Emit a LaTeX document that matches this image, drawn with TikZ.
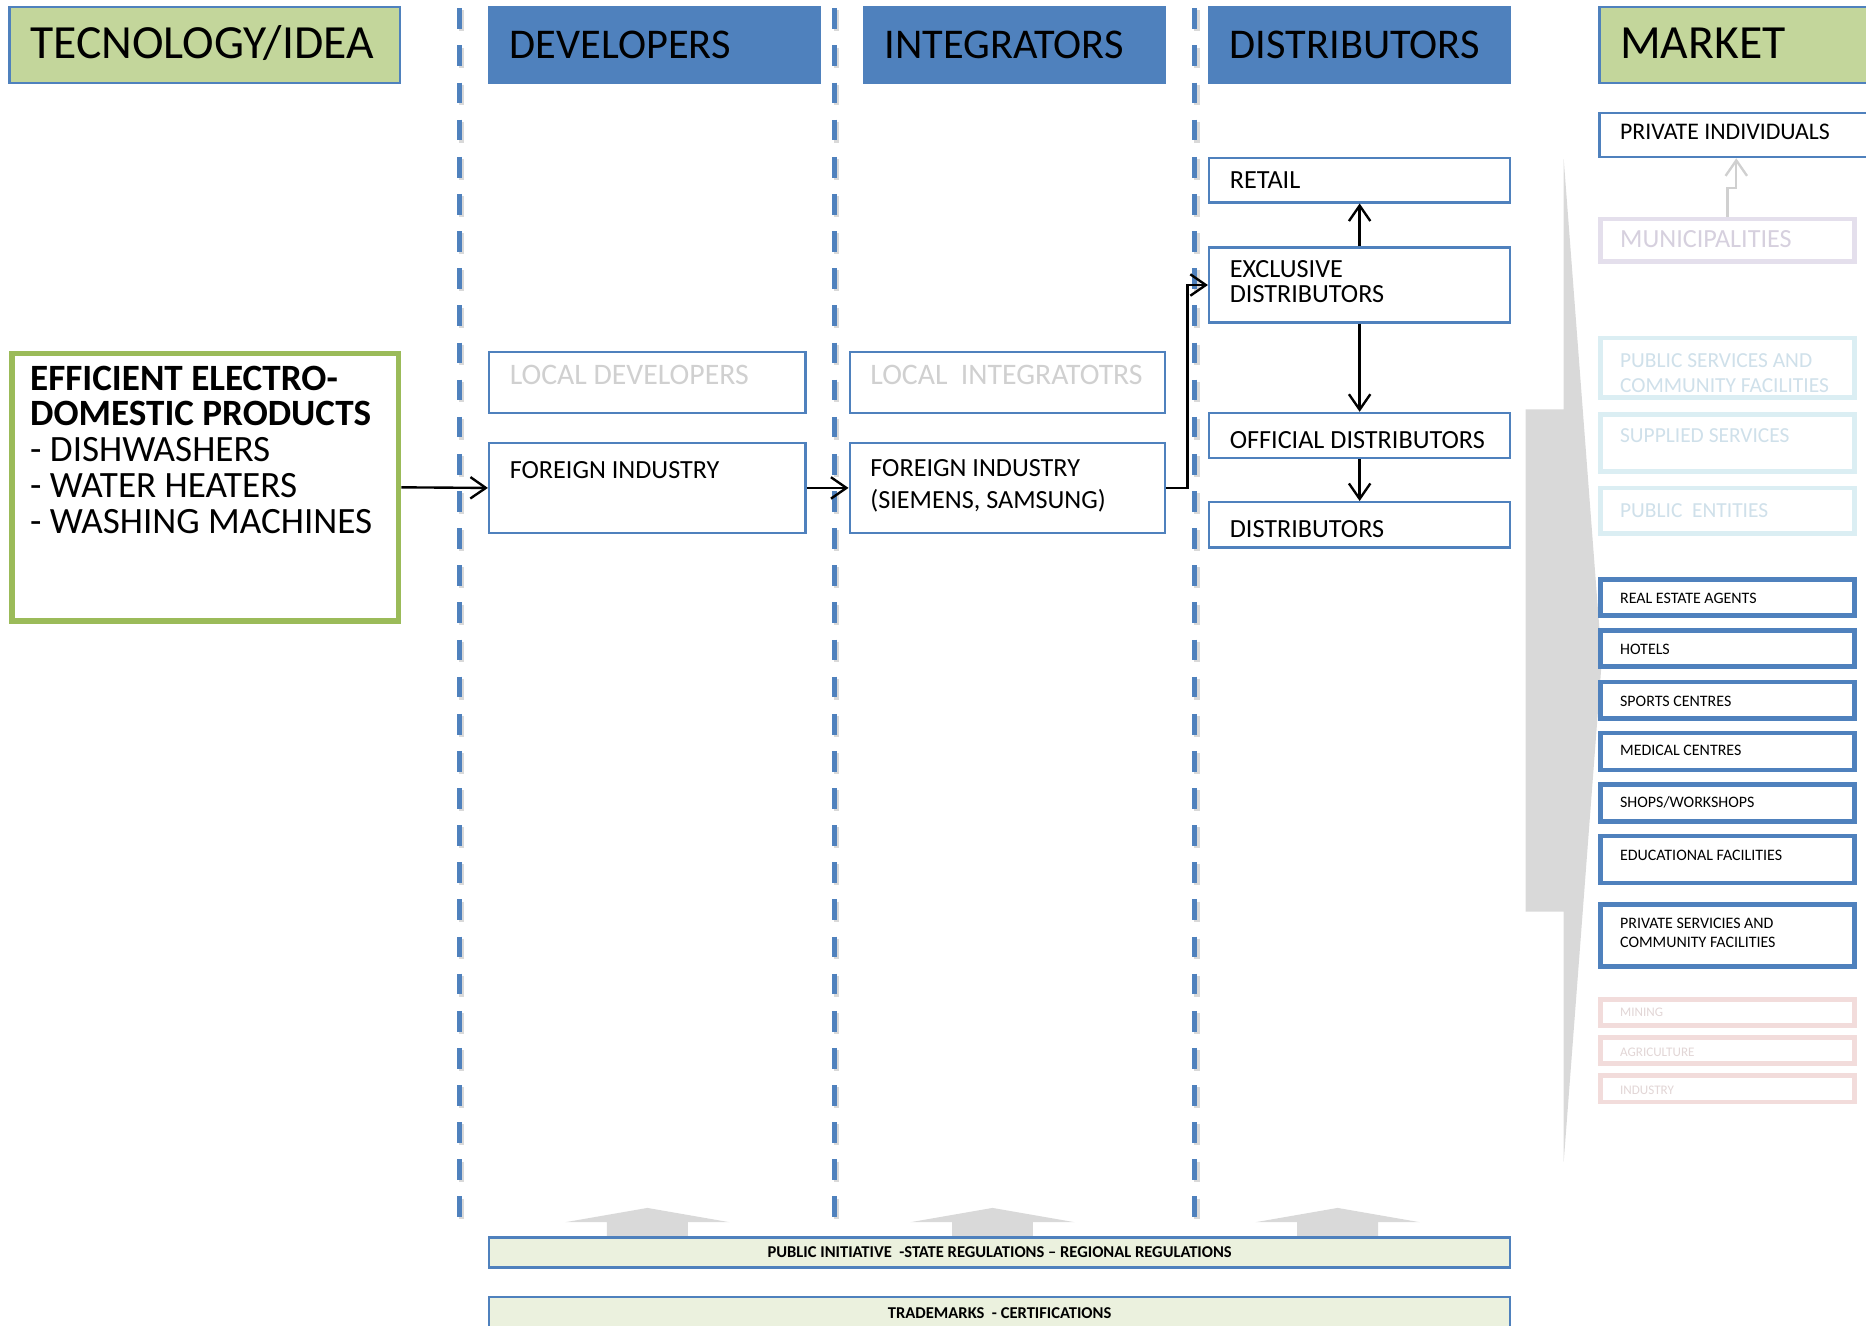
\documentclass[tikz,border=0pt]{standalone}
\usepackage{fontspec}
\setmainfont{Carlito}
\usetikzlibrary{arrows.meta,fit,calc}
\definecolor{hblue}{HTML}{4F81BD}
\definecolor{hgreen}{HTML}{C3D69B}
\definecolor{ggreen}{HTML}{9BBB59}
\definecolor{barfill}{HTML}{EBF1DE}
\definecolor{arrowgray}{HTML}{D9D9D9}
\definecolor{fainttext}{HTML}{D0D0D0}
\definecolor{muniborder}{HTML}{E4DFEC}
\definecolor{munitext}{HTML}{D6D0DE}
\definecolor{psborder}{HTML}{DBEEF3}
\definecolor{pstext}{HTML}{CFE0EA}
\definecolor{minborder}{HTML}{F2DCDB}
\definecolor{mintext}{HTML}{E2D6D6}
\definecolor{fadearrow}{HTML}{D0D0D0}
\begin{document}
\begin{tikzpicture}[x=0.5pt,y=-0.5pt,
  every node/.style={inner sep=0pt},
  thinbox/.style={draw=hblue, line width=1pt, fill=white},
  hdrb/.style={fill=hblue, draw=hblue, line width=0.8pt},
  hdrg/.style={fill=hgreen, draw=hblue, line width=1pt},
  effbox/.style={draw=ggreen, line width=2.3pt, fill=white},
  mktbox/.style={draw=hblue, line width=2pt, fill=white},
  palebox/.style={line width=2pt, fill=white},
  barbox/.style={draw=hblue, line width=1pt, fill=barfill},
  txt/.style={anchor=west, align=left},
  htxt/.style={txt, font=\fontsize{17.8}{20}\selectfont},
  midtxt/.style={txt, font=\fontsize{11}{13.5}\selectfont},
  fainttxt/.style={txt, font=\fontsize{12.5}{14}\selectfont, text=fainttext},
  smalltxt/.style={txt, font=\fontsize{6.7}{8}\selectfont},
  tinytxt/.style={txt, font=\fontsize{5.5}{7}\selectfont, text=mintext},
  bartxt/.style={font=\bfseries\fontsize{6.95}{8}\selectfont},
  conn/.style={draw=black, line width=1pt, -{Straight Barb[length=6.5pt,width=9pt]}},
  fadeconn/.style={draw=fadearrow, line width=1pt, -{Straight Barb[length=6.5pt,width=9pt]}},
  sep/.style={draw=hblue, line width=2.2pt, dash pattern=on 8.7pt off 6.9pt},
  shad/.style={draw=black!15, line width=2.2pt, dash pattern=on 8.7pt off 6.9pt},
  grayshape/.style={fill=arrowgray, draw=none},
]
\useasboundingbox (0,0) rectangle (1568,1114);

% column separators
\foreach \xx in {386,701,1004}{
  \draw[shad] (\xx+1.8,8.8) -- (\xx+1.8,1028.8);
  \draw[sep] (\xx,7) -- (\xx,1027);
}

% big gray block arrow toward market
\fill[grayshape] (1282,344) -- (1314,344) -- (1314,134) -- (1346,555) -- (1314,976) -- (1314,766) -- (1282,766) -- cycle;

% bottom gray up arrows
\foreach \cx in {544,834,1124}{
  \fill[grayshape] (\cx-34,1041) -- (\cx-34,1027) -- (\cx-69,1027) -- (\cx,1015) -- (\cx+69,1027) -- (\cx+34,1027) -- (\cx+34,1041) -- cycle;
}

% headers
\node[hdrg, fit={(8,6) (336,70)}] (h-tech) {};
\node[txt, font=\fontsize{20}{22}\selectfont] (t-tech) at (25,36) {TECNOLOGY/IDEA};
\node[hdrb, fit={(411,6) (689,70)}] (h-dev) {};
\node[htxt] (t-dev) at (428,38) {DEVELOPERS};
\node[hdrb, fit={(726,6) (979,70)}] (h-int) {};
\node[htxt] (t-int) at (743,38) {INTEGRATORS};
\node[hdrb, fit={(1016,6) (1269,70)}] (h-dis) {};
\node[htxt] (t-dis) at (1033,38) {DISTRIBUTORS};
\node[hdrg, fit={(1344,6) (1590,70)}] (h-mkt) {};
\node[txt, font=\fontsize{20}{22}\selectfont] (t-mkt) at (1361,36) {MARKET};

% technology box
\node[effbox, fit={(10,297) (335,522)}] (eff) {};
\node[txt, font=\fontsize{15.6}{15.1}\selectfont] (t-eff) at (25,378)
  {\textbf{EFFICIENT ELECTRO-}\\\textbf{DOMESTIC PRODUCTS}\\- DISHWASHERS\\- WATER HEATERS\\- WASHING MACHINES};

% developers
\node[thinbox, fit={(411,296) (677,347)}] (ldev) {};
\node[fainttxt] (t-ldev) at (428,315) {LOCAL DEVELOPERS};
\node[thinbox, fit={(411,372) (677,448)}] (fdev) {};
\node[midtxt] (t-fdev) at (428,395) {FOREIGN INDUSTRY};

% integrators
\node[thinbox, fit={(714,296) (979,347)}] (lint) {};
\node[fainttxt] (t-lint) at (731,315) {LOCAL\ \ INTEGRATOTRS};
\node[thinbox, fit={(714,372) (979,448)}] (fint) {};
\node[midtxt] (t-fint) at (731,408.5) {FOREIGN INDUSTRY\\(SIEMENS, SAMSUNG)};

% distributors
\node[thinbox, fit={(1016,133) (1269,170)}] (retail) {};
\node[midtxt] (t-retail) at (1033,151) {RETAIL};
\node[thinbox, fit={(1016,208) (1269,271)}] (excl) {};
\node[txt, font=\fontsize{11}{10.5}\selectfont] (t-excl) at (1033,237) {EXCLUSIVE\\DISTRIBUTORS};
\node[thinbox, fit={(1016,347) (1269,385)}] (offd) {};
\node[midtxt] (t-offd) at (1033,370) {OFFICIAL DISTRIBUTORS};
\node[thinbox, fit={(1016,422) (1269,460)}] (dist) {};
\node[midtxt] (t-dist) at (1033,445) {DISTRIBUTORS};

% market
\node[thinbox, fit={(1344,95) (1574,132)}] (priv) {};
\node[txt, font=\fontsize{10}{12}\selectfont] (t-priv) at (1361,111) {PRIVATE INDIVIDUALS};
\node[palebox, draw=muniborder, fit={(1345,184) (1558,220)}] (muni) {};
\node[midtxt, text=munitext] (t-muni) at (1361,201) {MUNICIPALITIES};
\node[palebox, draw=psborder, fit={(1345,284) (1558,334)}] (pubs) {};
\node[txt, font=\fontsize{9}{10.7}\selectfont, text=pstext] (t-pubs) at (1361,313.5) {PUBLIC SERVICES AND\\COMMUNITY FACILITIES};
\node[palebox, draw=psborder, fit={(1345,348) (1558,396)}] (supp) {};
\node[txt, font=\fontsize{9}{10.7}\selectfont, text=pstext] (t-supp) at (1361,366) {SUPPLIED SERVICES};
\node[palebox, draw=psborder, fit={(1345,410) (1558,448)}] (pent) {};
\node[txt, font=\fontsize{9}{10.7}\selectfont, text=pstext] (t-pent) at (1361,429) {PUBLIC\ \ ENTITIES};

\node[mktbox, fit={(1345,487) (1558,517)}] (real) {};
\node[smalltxt] (t-real) at (1361,502.5) {REAL ESTATE AGENTS};
\node[mktbox, fit={(1345,530) (1558,560)}] (hotel) {};
\node[smalltxt] (t-hotel) at (1361,545.5) {HOTELS};
\node[mktbox, fit={(1345,573) (1558,604)}] (sport) {};
\node[smalltxt] (t-sport) at (1361,589) {SPORTS CENTRES};
\node[mktbox, fit={(1345,616) (1558,647)}] (med) {};
\node[smalltxt] (t-med) at (1361,630.5) {MEDICAL CENTRES};
\node[mktbox, fit={(1345,659.5) (1558,690)}] (shop) {};
\node[smalltxt] (t-shop) at (1361,674.5) {SHOPS/WORKSHOPS};
\node[mktbox, fit={(1345,702.5) (1558,742)}] (edu) {};
\node[smalltxt] (t-edu) at (1361,718.5) {EDUCATIONAL FACILITIES};
\node[mktbox, fit={(1345,760) (1558,812)}] (psc) {};
\node[smalltxt] (t-psc) at (1361,784) {PRIVATE SERVICIES AND\\COMMUNITY FACILITIES};

\node[palebox, draw=minborder, fit={(1345,840) (1558,861.5)}] (mine) {};
\node[tinytxt] (t-mine) at (1361,851) {MINING};
\node[palebox, draw=minborder, fit={(1345,872) (1558,893.5)}] (agri) {};
\node[tinytxt] (t-agri) at (1361,884) {AGRICULTURE};
\node[palebox, draw=minborder, fit={(1345,904) (1558,926)}] (indu) {};
\node[tinytxt] (t-indu) at (1361,916) {INDUSTRY};

% bottom bars
\node[barbox, fit={(411,1040) (1269,1065)}] (bar1) {};
\node[bartxt] (t-bar1) at (840,1052.5) {PUBLIC INITIATIVE\ \ -STATE REGULATIONS -- REGIONAL REGULATIONS};
\node[barbox, fit={(411,1090) (1269,1130)}] (bar2) {};
\node[bartxt] (t-bar2) at (840,1103) {TRADEMARKS\ \ - CERTIFICATIONS};

% connectors
\draw[conn] (eff.east) -- (fdev.west);
\draw[conn] (fdev.east) -- (fint.west);
\draw[conn] (fint.east) -- ++(18,0) |- (excl.west);
\draw[conn] (excl.north) -- (retail.south);
\draw[conn] (excl.south) -- (offd.north);
\draw[conn] (offd.south) -- (dist.north);
\draw[fadeconn] (muni.north) -- ++(0,-24) -| (priv.south);
\end{tikzpicture}
\end{document}
